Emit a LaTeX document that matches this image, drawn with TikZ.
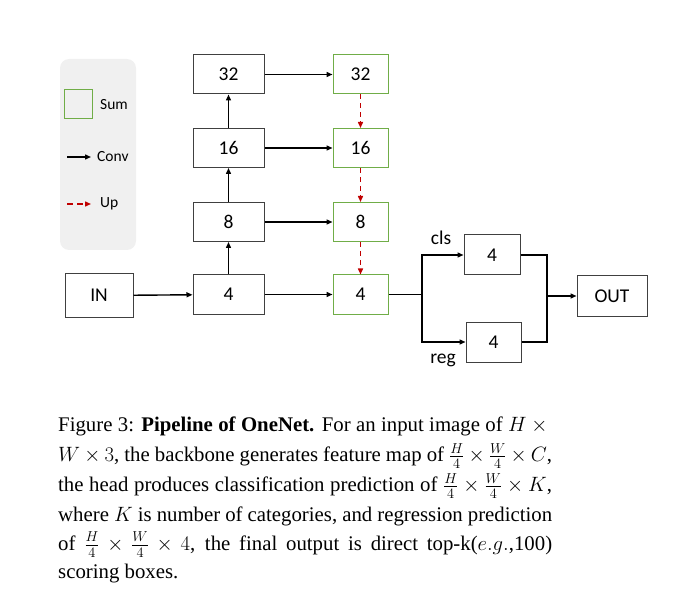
\documentclass[tikz,border=0pt]{standalone}
\usepackage{fontspec}
\setmainfont{Liberation Serif}
\newfontfamily\diagfont{Carlito}
\usetikzlibrary{arrows.meta}
\definecolor{sumgreen}{HTML}{70AD47}
\definecolor{upred}{HTML}{C00000}
\definecolor{legbg}{HTML}{F0F0F0}
\definecolor{boxgray}{HTML}{404040}
\tikzset{
  blk/.style={draw=boxgray, line width=1pt, minimum width=71pt, minimum height=39pt, inner sep=0pt, font=\diagfont\fontsize{19.5}{22}\selectfont},
  grn/.style={draw=sumgreen, line width=1pt, minimum width=55pt, minimum height=39pt, inner sep=0pt, font=\diagfont\fontsize{19.5}{22}\selectfont},
  conv/.style={line width=1.4pt, -{Triangle[length=6pt,width=5pt]}},
  upar/.style={line width=1.4pt, upred, dashed, dash pattern=on 5pt off 4pt, -{Triangle[length=6pt,width=5pt]}},
  lbl/.style={font=\diagfont\fontsize{19.5}{22}\selectfont, inner sep=0pt},
  leg/.style={font=\diagfont\fontsize{15.5}{18}\selectfont, inner sep=0pt, anchor=west},
  capline/.style={anchor=base west, inner sep=0pt, font=\fontsize{20.8}{25}\selectfont}
}
\begin{document}
\begin{tikzpicture}[x=1pt,y=-1pt]
\useasboundingbox (0,0) rectangle (673,615);
% legend
\node[fill=legbg, rounded corners=9pt, minimum width=76pt, minimum height=191pt, inner sep=0pt] (legend) at (98,154.5) {};
\node[draw=sumgreen, line width=1pt, minimum width=28pt, minimum height=29pt, inner sep=0pt] (legsum) at (78,104.5) {};
\node[leg] (legsumt) at (100,105) {Sum};
\coordinate (lc1) at (67,157);
\coordinate (lc2) at (91,157);
\draw[conv] (lc1) -- (lc2);
\node[leg] (legconv) at (97,157) {Conv};
\coordinate (lu1) at (67,204);
\coordinate (lu2) at (91,204);
\draw[upar, dash pattern=on 6pt off 4pt] (lu1) -- (lu2);
\node[leg] (legup) at (100,204) {Up};
% backbone
\node[blk, minimum width=68pt, minimum height=43pt] (in) at (99,295.5) {IN};
\node[blk] (b4) at (228.5,294.5) {4};
\node[blk] (b8) at (228.5,222) {8};
\node[blk] (b16) at (228.5,148) {16};
\node[blk] (b32) at (228.5,74.5) {32};
\node[grn] (g4) at (360.5,294.5) {4};
\node[grn] (g8) at (360.5,222) {8};
\node[grn] (g16) at (360.5,148) {16};
\node[grn] (g32) at (360.5,74.5) {32};
\draw[conv] (in) -- (b4);
\draw[conv] (b4) -- (b8);
\draw[conv] (b8) -- (b16);
\draw[conv] (b16) -- (b32);
\draw[conv] (b32) -- (g32);
\draw[conv] (b16) -- (g16);
\draw[conv] (b8) -- (g8);
\draw[conv] (b4) -- (g4);
\draw[upar] (g32) -- (g16);
\draw[upar] (g16) -- (g8);
\draw[upar] (g8) -- (g4);
% head
\node[blk, minimum width=56pt, minimum height=40pt] (cls) at (492,255) {4};
\node[blk, minimum width=55pt, minimum height=40pt] (reg) at (493.5,342) {4};
\node[blk, minimum width=70pt, minimum height=40pt] (out) at (612,296) {OUT};
\coordinate (br) at (422,294.5);
\coordinate (mg) at (547,296);
\draw[line width=1.4pt] (g4.east) -- (br);
\draw[conv] (br) |- (cls.west);
\draw[conv] (br) |- (reg.west);
\draw[line width=1.4pt] (cls.east) -| (mg);
\draw[line width=1.4pt] (reg.east) -| (mg);
\draw[conv] (mg) -- (out.west);
\node[lbl] (clst) at (441,238) {cls};
\node[lbl] (regt) at (443,360) {reg};
% caption
\node[capline] (c1) at (58,431) {\hbox to 494pt{Figure 3: \textbf{Pipeline of OneNet.} For an input image of $H \times{}$}};
\node[capline] (c2) at (58,461.5) {\hbox to 494pt{$W\times 3$, the backbone generates feature map of $\frac{H}{4}\times\frac{W}{4}\times C$,}};
\node[capline] (c3) at (58,491.5) {\hbox to 494pt{the head produces classification prediction of $\frac{H}{4}\times\frac{W}{4}\times K$,}};
\node[capline] (c4) at (58,521.5) {\hbox to 494pt{where $K$ is number of categories, and regression prediction}};
\node[capline] (c5) at (58,550) {\hbox to 494pt{of $\frac{H}{4}\times\frac{W}{4}\times 4$, the final output is direct top-k($e.g.$,100)}};
\node[capline] (c6) at (58,578.5) {scoring boxes.};
\end{tikzpicture}
\end{document}
